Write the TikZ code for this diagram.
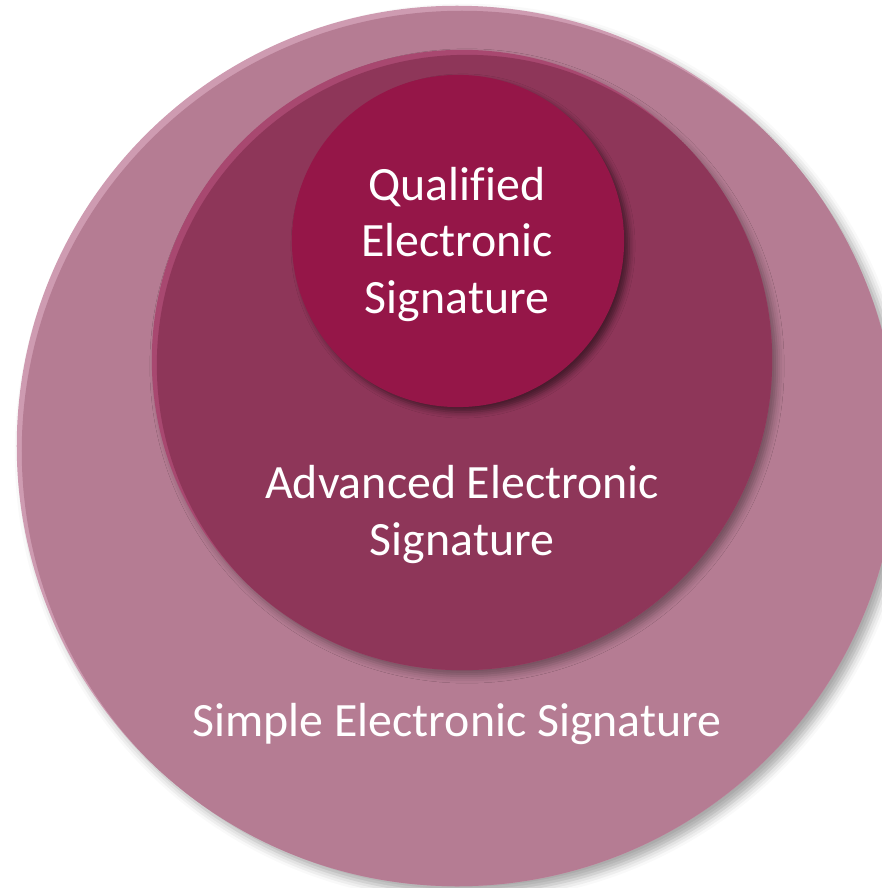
\documentclass[tikz,border=0pt]{standalone}
\usepackage{fontspec}
\setmainfont{Carlito}[Ligatures=CommonOff]
\usetikzlibrary{positioning, shadows.blur}

\definecolor{simpleFill}{RGB}{181,124,147}
\definecolor{simpleRim}{RGB}{206,155,177}
\definecolor{advFill}{RGB}{142,54,89}
\definecolor{advRim}{RGB}{168,72,112}
\definecolor{qualFill}{RGB}{149,22,72}

\begin{document}
\begin{tikzpicture}[x=0.01cm, y=-0.01cm,
    disc/.style={circle, inner sep=0pt, draw=none},
    sigtext/.style={text=white, align=center, inner sep=0pt, anchor=base,
                    font=\fontsize{13.6}{16}\selectfont},
    simple/.style={disc, minimum size=8.8cm, fill=simpleRim,
        blur shadow={shadow xshift=0.07cm, shadow yshift=-0.07cm,
                     shadow blur radius=0.09cm, shadow opacity=35},
        path picture={\fill[simpleFill] ([xshift=0.05cm,yshift=-0.05cm]path picture bounding box.center) circle (4.4cm);}},
    advanced/.style={disc, minimum size=6.2cm, fill=advRim,
        blur shadow={shadow xshift=0.05cm, shadow yshift=-0.06cm,
                     shadow blur radius=0.07cm, shadow opacity=35},
        path picture={\fill[advFill] ([xshift=0.05cm,yshift=-0.05cm]path picture bounding box.center) circle (3.1cm);}},
    qualified/.style={disc, minimum size=3.32cm, fill=qualFill,
        blur shadow={shadow xshift=0.05cm, shadow yshift=-0.05cm,
                     shadow blur radius=0.06cm, shadow opacity=50}}]

    \useasboundingbox (0,0) rectangle (882,888);

    % Kreise
    \node[simple]    (ses) at (457,446) {};
    \node[advanced]  (aes) at (462,360) {};
    \node[qualified] (qes) at (458,241) {};

    % Beschriftungen
    \node[sigtext] (qesText) at (457,313) {Qualified\\Electronic\\Signature};
    \node[sigtext] (aesText) at (462,555) {Advanced Electronic\\Signature};
    \node[sigtext] (sesText) at (457,736) {Simple Electronic Signature};
\end{tikzpicture}
\end{document}
